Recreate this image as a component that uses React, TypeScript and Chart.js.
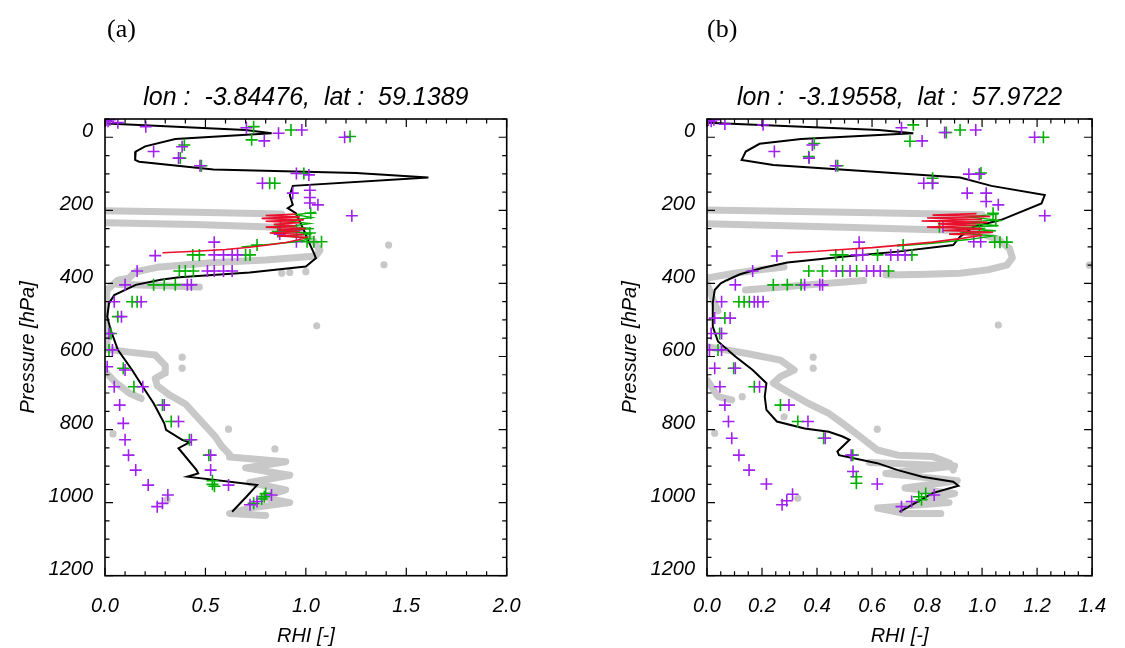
import React, { useEffect, useRef } from 'react';
import { Chart, registerables } from 'chart.js';
Chart.register(...registerables);

type Pt = [number, number]; // [RHI, pressure hPa]

// ---------- Panel (a) ----------
const titleA = 'lon :  -3.84476,  lat :  59.1389';
const xTicksA = { min: 0, max: 2.0, minor: 0.1, major: 0.5 };

const blackA: Pt[] = [
  [0.01, -38], [0.70, -20], [0.83, -11], [0.35, 5], [0.20, 25], [0.153, 39], [0.15, 62], [0.17, 67],
  [0.54, 88], [1.25, 98], [1.61, 110], [0.935, 133], [0.92, 158], [0.935, 185], [0.91, 194], [0.95, 208],
  [0.99, 254], [1.01, 281], [1.04, 317], [1.05, 331], [1.0, 354], [0.72, 370], [0.37, 383], [0.277, 390],
  [0.153, 404], [0.046, 432], [0.02, 454], [0.011, 491], [0.028, 527], [0.064, 582], [0.135, 637],
  [0.188, 683], [0.242, 728], [0.295, 783], [0.304, 801], [0.384, 828], [0.42, 835], [0.366, 851],
  [0.455, 910], [0.464, 920], [0.41, 929], [0.757, 952], [0.704, 984], [0.633, 1025],
];
const redA: Pt[] = [
  [0.286, 316], [0.45, 312], [0.60, 307], [0.72, 301], [0.82, 294], [0.90, 288], [0.96, 281], [1.0, 274],
  [0.86, 270], [0.99, 266], [0.82, 262], [0.97, 258], [0.86, 254], [1.0, 250], [0.80, 246], [0.95, 242],
  [0.84, 238], [0.97, 234], [0.80, 230], [0.99, 226], [0.78, 222], [0.97, 218], [0.80, 214], [0.95, 210],
];
const greenLineA: Pt[] = [
  [0.68, 300], [0.80, 294], [0.95, 286], [1.02, 278], [0.90, 270], [1.03, 264], [0.88, 256], [1.04, 250],
  [0.92, 244], [1.02, 236], [0.90, 228], [1.03, 220], [0.95, 212], [1.05, 205],
];
const purpleA: Pt[] = [
  [0.005, -47], [0.015, -44], [0.025, -48], [0.064, -40], [0.203, -29], [0.704, -26], [0.793, 10],
  [0.864, -11], [0.98, -20], [1.193, 0], [0.242, 39], [0.384, 26], [0.366, 57], [0.473, 78], [0.953, 99],
  [1.015, 103], [0.784, 126], [0.935, 153], [1.02, 145], [1.02, 165], [1.02, 180], [1.06, 185],
  [1.229, 215], [0.953, 254], [0.87, 265], [0.544, 287], [0.953, 286], [0.25, 324], [0.544, 322],
  [0.59, 322], [0.633, 322], [0.66, 322], [0.16, 366], [0.51, 366], [0.544, 366], [0.59, 366],
  [0.633, 366], [0.10, 404], [0.41, 404], [0.43, 404], [0.046, 450], [0.18, 450], [0.082, 491],
  [0.02, 537], [0.037, 582], [0.011, 628], [0.10, 637], [0.046, 683], [0.188, 683], [0.073, 733],
  [0.295, 733], [0.091, 783], [0.366, 778], [0.10, 828], [0.43, 828], [0.117, 870], [0.526, 870],
  [0.153, 911], [0.215, 952], [0.313, 979], [0.286, 1002], [0.26, 1011], [0.526, 911], [0.615, 952],
  [0.722, 1006], [0.757, 997], [0.829, 979],
];
const greenA: Pt[] = [
  [0.74, -29], [0.73, 7], [0.926, -20], [1.22, -2], [0.395, 21], [0.375, 57], [0.48, 78], [0.99, 99],
  [0.82, 126], [0.845, 126], [1.024, 208], [0.873, 244], [0.86, 258], [1.02, 262], [1.006, 286],
  [1.04, 286], [1.078, 286], [0.757, 295], [0.437, 322], [0.47, 322], [0.70, 322], [0.722, 322],
  [0.37, 366], [0.40, 366], [0.44, 366], [0.242, 404], [0.295, 404], [0.35, 404], [0.135, 450],
  [0.16, 450], [0.064, 491], [0.03, 537], [0.02, 582], [0.091, 632], [0.144, 683], [0.286, 733],
  [0.33, 778], [0.42, 828], [0.517, 870], [0.535, 940], [0.535, 950], [0.545, 955], [0.74, 1002],
  [0.793, 984], [0.78, 990], [0.80, 975],
];
const grayTrailsA: Pt[][] = [
  [[0, 201], [0.45, 205], [0.88, 210]],
  [[0, 234], [0.45, 239], [0.86, 246], [0.98, 262], [1.04, 285], [1.07, 310], [1.05, 325], [0.80, 336],
   [0.544, 343], [0.26, 356], [0.153, 368], [0.117, 386], [0.064, 391], [0.01, 418], [0, 500]],
  [[0.06, 402], [0.47, 410]],
  [[0, 500], [0.01, 540], [0.01, 580], [0.12, 588], [0.25, 596], [0.30, 625], [0.30, 645], [0.25, 660],
   [0.26, 680], [0.32, 705], [0.40, 730], [0.45, 760], [0.50, 790], [0.55, 820], [0.58, 845], [0.62, 868]],
  [[0, 640], [0.05, 670], [0.12, 700], [0.18, 715]],
  [[0.62, 875], [0.90, 888], [0.70, 905], [0.92, 925], [0.72, 945], [0.90, 965], [0.78, 985], [0.92, 1000],
   [0.72, 1015], [0.62, 1030], [0.80, 1035]],
];
const grayDotsA: Pt[] = [
  [1.412, 295], [1.389, 349], [1.054, 516], [0.384, 602], [0.384, 632], [0.615, 799], [0.04, 812],
  [0.846, 853], [0.31, 992], [0.88, 372], [0.92, 370], [1.0, 368],
];

// ---------- Panel (b) ----------
const titleB = 'lon :  -3.19558,  lat :  57.9722';
const xTicksB = { min: 0, max: 1.4, minor: 0.05, major: 0.2 };

const blackB: Pt[] = [
  [0.0025, -40], [0.625, -20], [0.75, -11], [0.342, 5], [0.191, 18], [0.141, 39], [0.126, 62],
  [0.241, 76], [0.92, 110], [1.034, 133], [1.228, 158], [1.216, 181], [1.07, 226], [0.97, 245],
  [0.92, 272], [0.895, 295], [0.694, 313], [0.493, 327], [0.292, 343], [0.2, 358], [0.12, 375],
  [0.07, 392], [0.05, 400], [0.028, 418], [0.021, 454], [0.021, 518], [0.04, 559], [0.103, 600],
  [0.166, 637], [0.216, 673], [0.21, 710], [0.216, 746], [0.254, 778], [0.355, 797], [0.443, 806],
  [0.493, 819], [0.518, 828], [0.474, 860], [0.48, 870], [0.619, 892], [0.694, 911], [0.782, 929],
  [0.895, 943], [0.914, 954], [0.82, 974], [0.70, 1025],
];
const redB: Pt[] = [
  [0.292, 316], [0.40, 312], [0.493, 307], [0.60, 302], [0.694, 296], [0.82, 287], [0.933, 276],
  [1.0, 268], [0.88, 265], [1.04, 260], [0.86, 255], [1.0, 250], [0.80, 246], [0.98, 241], [0.84, 237],
  [1.02, 233], [0.78, 229], [1.0, 225], [0.80, 221], [1.03, 217], [0.82, 213], [0.98, 209],
];
const greenLineB: Pt[] = [
  [0.69, 298], [0.82, 290], [0.95, 280], [1.04, 270], [0.92, 262], [1.05, 256], [0.90, 248], [1.06, 242],
  [0.93, 234], [1.05, 226], [0.95, 218], [1.06, 210],
];
const purpleB: Pt[] = [
  [0.005, -47], [0.015, -44], [0.025, -48], [0.065, -36], [0.204, -34], [0.707, -26], [0.782, 10],
  [0.864, -13], [0.977, -20], [1.191, 0], [0.245, 39], [0.383, 21], [0.371, 57], [0.468, 78],
  [0.952, 101], [0.99, 101], [0.788, 126], [0.82, 126], [0.946, 153], [1.015, 153], [1.015, 176],
  [1.059, 185], [1.228, 215], [0.858, 245], [0.553, 287], [0.97, 286], [0.995, 286], [0.254, 325],
  [0.543, 322], [0.566, 322], [0.668, 322], [0.694, 322], [0.72, 322], [0.166, 366], [0.47, 366],
  [0.52, 366], [0.58, 366], [0.606, 366], [0.63, 366], [0.103, 404], [0.355, 404], [0.41, 404],
  [0.42, 404], [0.053, 450], [0.172, 450], [0.185, 450], [0.204, 450], [0.028, 495], [0.084, 495],
  [0.015, 537], [0.053, 537], [0.009, 582], [0.053, 582], [0.028, 632], [0.103, 632], [0.047, 683],
  [0.191, 683], [0.065, 733], [0.298, 733], [0.078, 778], [0.367, 778], [0.09, 824], [0.43, 824],
  [0.116, 870], [0.524, 870], [0.153, 911], [0.216, 949], [0.273, 1006], [0.311, 977], [0.29, 995],
  [0.531, 915], [0.619, 949], [0.707, 1011], [0.744, 997], [0.826, 979],
];
const greenB: Pt[] = [
  [0.75, -34], [0.738, 11], [0.92, -20], [0.87, -13], [1.223, 0], [0.39, 17], [0.37, 53], [0.475, 78],
  [0.996, 98], [0.82, 112], [0.82, 126], [1.04, 208], [1.05, 228], [0.845, 245], [0.99, 250],
  [1.09, 287], [1.065, 287], [1.046, 287], [0.713, 295], [0.468, 322], [0.493, 322], [0.62, 322],
  [0.745, 322], [0.37, 366], [0.42, 366], [0.493, 366], [0.544, 366], [0.66, 366], [0.241, 404],
  [0.292, 404], [0.342, 404], [0.116, 450], [0.135, 450], [0.154, 450], [0.065, 495], [0.046, 537],
  [0.04, 582], [0.097, 632], [0.172, 683], [0.267, 733], [0.33, 778], [0.424, 824], [0.53, 870],
  [0.543, 929], [0.543, 947], [0.77, 984], [0.795, 975], [0.78, 992],
];
const grayTrailsB: Pt[][] = [
  [[0, 199], [0.5, 205], [1.0, 212]],
  [[0, 237], [0.5, 246], [0.95, 256], [0.98, 260], [1.06, 280], [1.10, 305], [1.11, 330], [1.09, 350],
   [1.02, 363], [0.92, 372], [0.80, 375], [0.65, 377]],
  [[0, 385], [0.10, 372], [0.2, 362], [0.28, 355]],
  [[0.14, 418], [0.35, 405], [0.57, 392]],
  [[0, 400], [0.02, 440], [0.04, 475]],
  [[0, 573], [0.14, 591], [0.267, 610], [0.317, 637], [0.267, 655], [0.241, 673], [0.292, 696],
   [0.367, 728], [0.443, 756], [0.493, 783], [0.556, 819], [0.619, 856], [0.694, 870], [0.82, 874],
   [0.883, 892], [0.895, 911]],
  [[0, 664], [0.04, 710], [0.09, 719]],
  [[0.59, 890], [0.90, 900], [0.65, 920], [0.91, 940], [0.72, 960], [0.90, 975], [0.80, 990],
   [0.88, 1000], [0.62, 1015], [0.72, 1030], [0.85, 1030]],
];
const grayDotsB: Pt[] = [
  [1.39, 350], [0.386, 602], [0.386, 632], [0.619, 799], [1.059, 514], [0.028, 810], [0.28, 765],
  [0.33, 988], [0.128, 710],
];

// y axis (pressure)
const yRange = { min: -50, max: 1200, minor: 50, major: 200 };

// ---------- styles ----------
const PURPLE = 'rgb(160,32,240)';
const GREEN = 'rgb(0,176,0)';
const RED = 'rgb(232,16,44)';
const GRAY = 'rgb(200,200,200)';
const FONT = "'Liberation Sans', Arial, Helvetica, sans-serif";

const isMult = (v: number, step: number) => Math.abs(v / step - Math.round(v / step)) < 1e-6;
const toXY = (a: Pt[]) => a.map(([x, y]) => ({ x, y }));

const framePlugin = {
  id: 'idlFrame',
  afterDatasetsDraw(chart: any, _args: any, opts: any) {
    const { ctx, chartArea } = chart;
    const { left, right, top, bottom } = chartArea;
    const xs = chart.scales.x;
    const ys = chart.scales.y;
    ctx.save();
    ctx.strokeStyle = '#000';
    ctx.lineWidth = 1.2;
    ctx.beginPath();
    xs.ticks.forEach((t: any) => {
      const px = xs.getPixelForValue(t.value);
      const len = isMult(t.value, opts.xMajor) ? 8 : 4.5;
      ctx.moveTo(px, bottom);
      ctx.lineTo(px, bottom - len);
      ctx.moveTo(px, top);
      ctx.lineTo(px, top + len);
    });
    ys.ticks.forEach((t: any) => {
      const py = ys.getPixelForValue(t.value);
      const len = isMult(t.value, opts.yMajor) ? 8 : 4.5;
      ctx.moveTo(left, py);
      ctx.lineTo(left + len, py);
      ctx.moveTo(right, py);
      ctx.lineTo(right - len, py);
    });
    ctx.stroke();
    ctx.lineWidth = 1.6;
    ctx.strokeRect(left, top, right - left, bottom - top);
    ctx.restore();
  },
};

interface PanelProps {
  title: string;
  xt: { min: number; max: number; minor: number; major: number };
  black: Pt[];
  red: Pt[];
  greenLine: Pt[];
  purple: Pt[];
  green: Pt[];
  grayTrails: Pt[][];
  grayDots: Pt[];
  width: number;
  padRight: number;
}

function Panel(p: PanelProps) {
  const ref = useRef<HTMLCanvasElement>(null);
  useEffect(() => {
    if (!ref.current) return;
    const datasets: any[] = [];
    p.grayTrails.forEach((tr) =>
      datasets.push({
        data: toXY(tr), showLine: true, borderColor: GRAY, borderWidth: 7, pointRadius: 0,
        borderCapStyle: 'round', borderJoinStyle: 'round', order: 7,
      })
    );
    datasets.push({
      data: toXY(p.grayDots), showLine: false, pointRadius: 3.6, pointStyle: 'circle',
      backgroundColor: GRAY, borderWidth: 0, order: 7,
    });
    datasets.push({ data: toXY(p.black), showLine: true, borderColor: '#000', borderWidth: 2, pointRadius: 0, order: 6 });
    datasets.push({
      data: toXY(p.green), showLine: false, pointStyle: 'cross', pointRadius: 6, borderColor: GREEN,
      backgroundColor: GREEN, pointBorderWidth: 1.6, order: 5,
    });
    datasets.push({
      data: toXY(p.purple), showLine: false, pointStyle: 'cross', pointRadius: 6, borderColor: PURPLE,
      backgroundColor: PURPLE, pointBorderWidth: 1.6, order: 4,
    });
    datasets.push({ data: toXY(p.greenLine), showLine: true, borderColor: GREEN, borderWidth: 1.4, pointRadius: 0, order: 3 });
    datasets.push({ data: toXY(p.red), showLine: true, borderColor: RED, borderWidth: 1.6, pointRadius: 0, order: 2 });

    const chart = new Chart(ref.current, {
      type: 'scatter',
      data: { datasets },
      plugins: [framePlugin],
      options: {
        responsive: false,
        animation: false,
        devicePixelRatio: 1,
        events: [],
        layout: { padding: { left: 0, right: p.padRight, top: 0, bottom: 0 } },
        plugins: {
          legend: { display: false },
          tooltip: { enabled: false },
          title: {
            display: true, text: p.title, fullSize: false, color: '#000',
            font: { family: FONT, size: 25, style: 'italic', weight: 'normal' },
            padding: { top: 83, bottom: 6 },
          },
          idlFrame: { xMajor: p.xt.major, yMajor: yRange.major },
        } as any,
        scales: {
          x: {
            type: 'linear', min: p.xt.min, max: p.xt.max,
            grid: { display: false, drawTicks: false }, border: { display: false },
            ticks: {
              stepSize: p.xt.minor, autoSkip: false, maxRotation: 0, padding: 19, color: '#000',
              font: { family: FONT, size: 20, style: 'italic' },
              callback: (v: any) => (isMult(Number(v), p.xt.major) ? Number(v).toFixed(1) : ''),
            },
            title: {
              display: true, text: 'RHI [-]', color: '#000',
              font: { family: FONT, size: 20, style: 'italic' }, padding: { top: 0, bottom: 0 },
            },
            afterFit: (s: any) => { s.height = 72.3; },
          },
          y: {
            type: 'linear', reverse: true, min: yRange.min, max: yRange.max,
            grid: { display: false, drawTicks: false }, border: { display: false },
            ticks: {
              stepSize: yRange.minor, autoSkip: false, padding: 12, labelOffset: -6, color: '#000',
              font: { family: FONT, size: 20, style: 'italic' },
              callback: (v: any) => (isMult(Number(v), yRange.major) ? String(Number(v)) : ''),
            },
            title: {
              display: true, text: 'Pressure [hPa]', color: '#000',
              font: { family: FONT, size: 20, style: 'italic' }, padding: { top: 16, bottom: 0 },
            },
            afterFit: (s: any) => { s.width = 105; },
          },
        },
      } as any,
    });
    return () => chart.destroy();
  }, []);
  return <canvas ref={ref} width={p.width} height={648} style={{ display: 'block', width: p.width, height: 648 }} />;
}

export default function App() {
  const lab: React.CSSProperties = {
    position: 'absolute', fontFamily: "'Liberation Serif', 'Times New Roman', serif", fontSize: 26, lineHeight: '30px',
    color: '#000',
  };
  return (
    <div style={{ position: 'absolute', left: 0, top: 0, width: 1125, height: 648, background: '#fff', overflow: 'hidden' }}>
      <div style={{ position: 'absolute', left: 0, top: 0 }}>
        <Panel title={titleA} xt={xTicksA} black={blackA} red={redA} greenLine={greenLineA} purple={purpleA}
          green={greenA} grayTrails={grayTrailsA} grayDots={grayDotsA} width={560} padRight={53.3} />
      </div>
      <div style={{ position: 'absolute', left: 602, top: 0 }}>
        <Panel title={titleB} xt={xTicksB} black={blackB} red={redB} greenLine={greenLineB} purple={purpleB}
          green={greenB} grayTrails={grayTrailsB} grayDots={grayDotsB} width={523} padRight={16.7} />
      </div>
      <div style={{ ...lab, left: 107, top: 14 }}>(a)</div>
      <div style={{ ...lab, left: 707, top: 14 }}>(b)</div>
    </div>
  );
}
